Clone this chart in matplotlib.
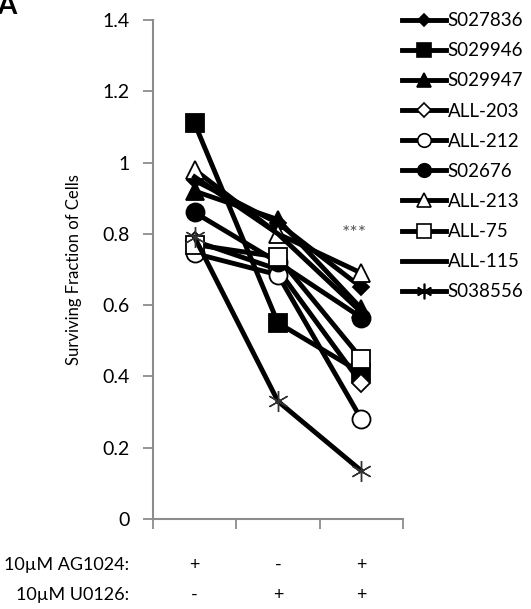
import matplotlib
matplotlib.use("Agg")
import matplotlib.pyplot as plt
from matplotlib.lines import Line2D
from matplotlib.transforms import blended_transform_factory

plt.rcParams["font.family"] = ["Lato", "DejaVu Sans"]

# treatment conditions (one column each)
ag1024 = ["+", "-", "+"]
u0126 = ["-", "+", "+"]

cell_lines = ["S027836", "S029946", "S029947", "ALL-203", "ALL-212",
              "S02676", "ALL-213", "ALL-75", "ALL-115", "S038556"]

s027836 = [0.95, 0.83, 0.65]
s029946 = [1.11, 0.55, 0.41]
s029947 = [0.92, 0.84, 0.59]
all203 = [0.78, 0.70, 0.38]
all212 = [0.745, 0.685, 0.28]
s02676 = [0.86, 0.72, 0.565]
all213 = [0.98, 0.80, 0.69]
all75 = [0.77, 0.735, 0.45]
all115 = [0.96, 0.80, 0.58]
s038556 = [0.79, 0.33, 0.135]

series = [s027836, s029946, s029947, all203, all212,
          s02676, all213, all75, all115, s038556]

styles = {
    "S027836": dict(marker="D", mfc="black", ms=8),
    "S029946": dict(marker="s", mfc="black", ms=13),
    "S029947": dict(marker="^", mfc="black", ms=13),
    "ALL-203": dict(marker="D", mfc="white", ms=9),
    "ALL-212": dict(marker="o", mfc="white", ms=13),
    "S02676": dict(marker="o", mfc="black", ms=13),
    "ALL-213": dict(marker="^", mfc="white", ms=13),
    "ALL-75": dict(marker="s", mfc="white", ms=13),
    "ALL-115": dict(marker="None", mfc="black", ms=0),
    "S038556": dict(marker=(6, 2, 0), mfc="black", ms=15),
}

fig = plt.figure(figsize=(5.31, 6.09), dpi=100)
ax = fig.add_axes([0.288, 0.148, 0.471, 0.819])

xpos = [0.5, 1.5, 2.5]
for name, vals in zip(cell_lines, series):
    st = styles[name]
    mew = 1.0 if name == "S038556" else 1.3
    mec = "#333333" if name == "S038556" else "black"
    ax.plot(xpos, vals, color="black", lw=3.5, marker=st["marker"],
            ms=st["ms"], mfc=st["mfc"], mec=mec, mew=mew,
            label=name, clip_on=False)

ax.text(2.42, 0.80, "***", fontsize=14, color="#555555", ha="center", va="center")

ax.set_xlim(0, 3)
ax.set_ylim(0, 1.4)
ax.set_xticks([0, 1, 2, 3])
ax.set_xticklabels([])
ax.set_yticks([0, 0.2, 0.4, 0.6, 0.8, 1.0, 1.2, 1.4])
ax.set_yticklabels(["0", "0.2", "0.4", "0.6", "0.8", "1", "1.2", "1.4"])
ax.tick_params(axis="both", direction="out", length=7, width=1.3,
               color="#8c8c8c", labelsize=14, pad=10)
for side in ["top", "right"]:
    ax.spines[side].set_visible(False)
for side in ["left", "bottom"]:
    ax.spines[side].set_color("#8c8c8c")
    ax.spines[side].set_linewidth(1.5)

ax.set_ylabel("Surviving Fraction of Cells", fontsize=12, labelpad=14)

# treatment rows under the axis
row_tr = blended_transform_factory(ax.transData, fig.transFigure)
y_ag = 1 - 565 / 609
y_u0 = 1 - 595 / 609
for x, a, u in zip(xpos, ag1024, u0126):
    ax.text(x, y_ag, a, ha="center", va="center", fontsize=13, transform=row_tr)
    ax.text(x, y_u0, u, ha="center", va="center", fontsize=13, transform=row_tr)
fig.text(0.243, y_ag, "10\u00b5M AG1024:", ha="right", va="center", fontsize=13)
fig.text(0.243, y_u0, "10\u00b5M U0126:", ha="right", va="center", fontsize=13)

handles = []
for name in cell_lines:
    st = styles[name]
    ms = st["ms"] * 0.75
    handles.append(Line2D([], [], color="black", lw=3.5, marker=st["marker"],
                          ms=ms, mfc=st["mfc"], mec="black", mew=1.2))
fig.legend(handles, cell_lines, loc="upper left", bbox_to_anchor=(0.735, 1.0),
           frameon=False, fontsize=13.5, handlelength=2.3, handletextpad=0.1,
           labelspacing=0.7, borderaxespad=0.25)

fig.text(-0.005, 1.012, "A", fontsize=20, fontweight="bold", va="top", ha="left")

fig.savefig("out.png", dpi=100)
